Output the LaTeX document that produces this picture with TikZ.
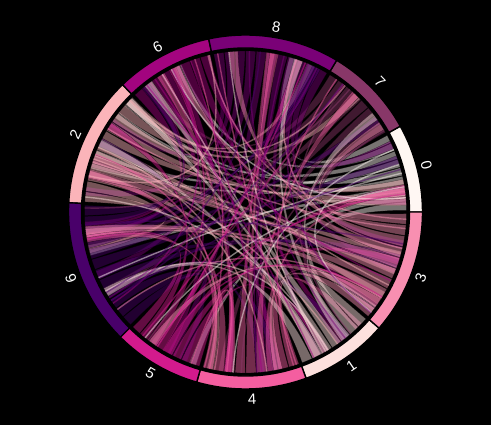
\documentclass[tikz,border=0pt]{standalone}
\usepackage{fontspec}
\setmainfont{Liberation Sans}
\usepackage{tikz}
\usepackage{xcolor}
\definecolor{grp0}{HTML}{FFF7F3}
\definecolor{grp1}{HTML}{FDE0DD}
\definecolor{grp2}{HTML}{FBB4B9}
\definecolor{grp3}{HTML}{F88FB1}
\definecolor{grp4}{HTML}{F45EA0}
\definecolor{grp5}{HTML}{D31A8D}
\definecolor{grp6}{HTML}{A3047F}
\definecolor{grp7}{HTML}{883768}
\definecolor{grp8}{HTML}{7A0177}
\definecolor{grp9}{HTML}{49006A}
\def\grpstart{{0,290,134,319,254,225,102,29,59,177}}
\def\grpend{{29,319,177,360,290,254,134,59,102,225}}
\tikzset{
	ribbon/.style={fill=#1, fill opacity=0.47, draw=black, draw opacity=0.6, line width=0.25pt},
	strand/.style={draw=#1, line width=1.4pt, draw opacity=0.5},
	arcseg/.style={fill=#1, draw=black, line width=1.4pt},
	grplabel/.style={text=white, font=\fontsize{15}{17}\selectfont, inner sep=0pt}
}

\begin{document}
\begin{tikzpicture}[x=1pt,y=1pt]
	% Background
	\fill[black] (-245.5,-213) rectangle (245.5,212);
	\useasboundingbox (-245.5,-213) rectangle (245.5,212);
	\pgfmathsetseed{11}
	\def\R{161}
	\def\Rc{54}
	
	% Ribbons, coloured by source group
	\foreach \g/\targets in {0/{1,5,9,2,2,2,2,6,8},
		7/{3,1,4,5,9,9,2,6},
		8/{0,3,3,1,4,4,5,9,9,2,2},
		6/{0,3,1,4,4,5,9,9},
		2/{8,7,0,0,0,3,3,3,1,4,9},
		9/{2,6,8,8,7,0,3,3,1,4,4,5},
		5/{9,2,6,8,0,3,1,4},
		4/{9,2,6,8,8,7,0,3,1},
		1/{9,2,2,6,8,7,3},
		3/{4,5,9,9,2,2,6,8,7,0}}{
		\foreach \t [count=\c] in \targets {\xdef\nt{\c}}
		\pgfmathsetmacro\gs{\grpstart[\g]}
		\pgfmathsetmacro\ge{\grpend[\g]}
		\pgfmathsetmacro\w{(\ge-\gs-1)/\nt}
		\foreach \t [count=\k] in \targets {
			\pgfmathsetmacro\a{\gs+0.5+(\k-1)*\w+0.12}
			\pgfmathsetmacro\aa{\a+\w-0.24}
			\pgfmathsetmacro\am{(\a+\aa)/2}
			\pgfmathsetmacro\ts{\grpstart[\t]}
			\pgfmathsetmacro\te{\grpend[\t]}
			\pgfmathsetmacro\b{\ts+0.6+rnd*(\te-\ts-1.2-0.8*\w)}
			\pgfmathsetmacro\bb{\b+0.8*\w}
			\pgfmathsetmacro\bm{(\b+\bb)/2}
			\path[ribbon=grp\g] (\a:\R pt) arc[start angle=\a, end angle=\aa, radius=\R pt]
				.. controls (\am:\Rc pt) and (\bm:\Rc pt) .. (\b:\R pt)
				arc[start angle=\b, end angle=\bb, radius=\R pt]
				.. controls (\bm:\Rc pt) and (\am:\Rc pt) .. cycle;
		}
	}
	
	% Thin strands
	\foreach \g/\targets in {0/{3,9,4,6,5}, 1/{6,2,8,9}, 2/{3,1,4,7,6}, 3/{2,9,6,8}, 4/{8,7,6,2,5},
		5/{0,7,8,3}, 6/{1,3,4,9}, 7/{5,9,4,1}, 8/{4,1,9,3}, 9/{0,3,8,7}}{
		\pgfmathsetmacro\gs{\grpstart[\g]}
		\pgfmathsetmacro\ge{\grpend[\g]}
		\foreach \t in \targets {
			\pgfmathsetmacro\a{\gs+1+rnd*(\ge-\gs-2)}
			\pgfmathsetmacro\ts{\grpstart[\t]}
			\pgfmathsetmacro\te{\grpend[\t]}
			\pgfmathsetmacro\b{\ts+1+rnd*(\te-\ts-2)}
			\draw[strand=grp\g] (\a:\R pt) .. controls (\a:\Rc pt) and (\b:\Rc pt) .. (\b:\R pt);
		}
	}
	
	% Ring of groups
	\draw[black, line width=2pt] (0,0) circle[radius=162.5pt];
	\foreach \g in {0,...,9}{
		\pgfmathsetmacro\gs{\grpstart[\g]}
		\pgfmathsetmacro\ge{\grpend[\g]}
		\draw[black, line width=1.4pt] (\gs:138pt) -- (\gs:164pt);
		\path[arcseg=grp\g] (\gs:164pt) arc[start angle=\gs, end angle=\ge, radius=164pt]
			-- (\ge:177pt) arc[start angle=\ge, end angle=\gs, radius=177pt] -- cycle;
	}
	
	% Labels
	\foreach \g/\m in {0/14.5, 7/44, 8/80.5, 6/118, 2/155.5, 9/201, 5/239.5, 4/272, 1/304.5, 3/339.5}{
		\pgfmathsetmacro\rot{\m<180 ? \m-90 : \m+90}
		\node[grplabel, rotate=\rot] (lab\g) at (\m:187pt) {\g};
	}
\end{tikzpicture}
\end{document}
